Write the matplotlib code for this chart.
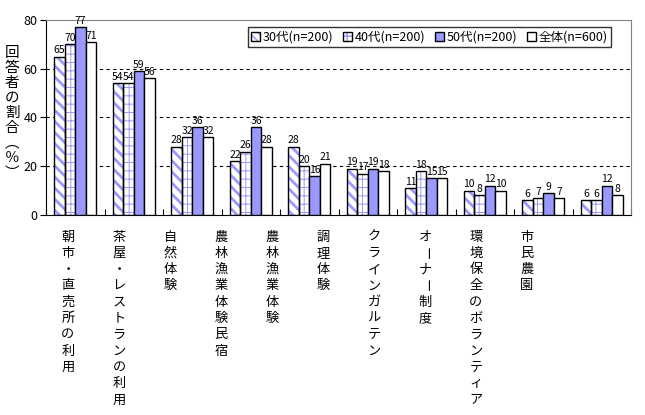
import numpy as np
import matplotlib.pyplot as plt
import matplotlib.patches as mpatches

plt.rcParams['font.family'] = ['Noto Sans CJK JP', 'DejaVu Sans']

categories = ['朝市・直売所の利用', '茶屋・レストランの利用', '自然体験', '農林漁業体験民宿',
              '農林漁業体験', '調理体験', 'クラインガルテン', 'オーナー制度',
              '環境保全のボランティア', '市民農園']
s30 = [65, 54, 28, 22, 28, 19, 11, 10, 6, 6]
s40 = [70, 54, 32, 26, 20, 17, 18, 8, 7, 6]
s50 = [77, 59, 36, 36, 16, 19, 15, 12, 9, 12]
sall = [71, 56, 32, 28, 21, 18, 15, 10, 7, 8]
labels = ['30代(n=200)', '40代(n=200)', '50代(n=200)', '全体(n=600)']

blue = '#9999FF'


def vtext(fig, x, y, s, step, size):
    # vertical (tategaki) text, pixel coords, y = top char from top of figure
    H = fig.get_figheight() * fig.dpi
    for k, ch in enumerate(s):
        rot = -90 if ch == 'ー' else 0
        fig.text(x, H - y - k * step, ch, transform=None, ha='center', va='center',
                 fontsize=size, rotation=rot, rotation_mode='anchor')


fig = plt.figure(figsize=(6.45, 4.15), dpi=100)
ax = fig.add_axes([46 / 645, 1 - 215 / 415, 585 / 645, 195 / 415])

x = np.arange(len(categories))
w = 0.18
offs = [-1.5 * w, -0.5 * w, 0.5 * w, 1.5 * w]

# 30代: diagonal stripes
with plt.rc_context({'hatch.linewidth': 2.0}):
    ax.bar(x + offs[0], s30, w, color='white', edgecolor=blue, hatch='\\\\\\', lw=0, zorder=2)
ax.bar(x + offs[0], s30, w, fill=False, edgecolor='black', lw=1, zorder=3)
# 40代: dotted grid
with plt.rc_context({'hatch.linewidth': 0.7}):
    ax.bar(x + offs[1], s40, w, color='white', edgecolor=blue, hatch='++', lw=0, zorder=2)
ax.bar(x + offs[1], s40, w, fill=False, edgecolor='black', lw=1, zorder=3)
ax.bar(x + offs[2], s50, w, color=blue, edgecolor='black', lw=1, zorder=3)
ax.bar(x + offs[3], sall, w, color='white', edgecolor='black', lw=1, zorder=3)

for vals, off in zip([s30, s40, s50, sall], offs):
    for xi, v in zip(x, vals):
        ax.annotate(str(v), (xi + off, v), xytext=(0, 1), textcoords='offset points',
                    ha='center', va='bottom', fontsize=7.5)

ax.set_xlim(-0.5, len(categories) - 0.5)
ax.set_ylim(0, 80)
ax.set_yticks([0, 20, 40, 60, 80])
ax.tick_params(axis='y', labelsize=9, length=4, direction='out', pad=2)
ax.set_xticks(np.arange(len(categories) + 1) - 0.5)
ax.set_xticklabels([])
ax.tick_params(axis='x', length=4, direction='in')
for yv in [20, 40, 60]:
    ax.axhline(yv, color='black', lw=0.8, ls=(0, (3, 3)), zorder=1)
for sp in ['top', 'right']:
    ax.spines[sp].set_color('#808080')

# legend handles: pattern + black outline
edge = mpatches.Patch(facecolor='none', edgecolor='black', lw=1)
with plt.rc_context({'hatch.linewidth': 1.5}):
    h1 = mpatches.Patch(facecolor='white', edgecolor=blue, hatch='\\\\\\\\', lw=0)
with plt.rc_context({'hatch.linewidth': 0.7}):
    h2 = mpatches.Patch(facecolor='white', edgecolor=blue, hatch='+++', lw=0)
h3 = mpatches.Patch(facecolor=blue, edgecolor='black')
h4 = mpatches.Patch(facecolor='white', edgecolor='black')
leg = ax.legend([(h1, edge), (h2, edge), h3, h4], labels, ncol=4, loc='upper right',
                bbox_to_anchor=(565 / 585, 188 / 195), fontsize=9, frameon=True, fancybox=False,
                handlelength=0.7, handleheight=0.7, handletextpad=0.2, columnspacing=0.8,
                borderpad=0.3, borderaxespad=0)
leg.get_frame().set_edgecolor('black')
leg.get_frame().set_linewidth(1)

# y label
vtext(fig, 12, 53, '回答者の割合︵％︶', 15, 10.5)
# category labels
for i, c in enumerate(categories):
    vtext(fig, 68 + 51 * i, 237, c, 16.3, 9.5)

fig.savefig('out.png', dpi=100)
